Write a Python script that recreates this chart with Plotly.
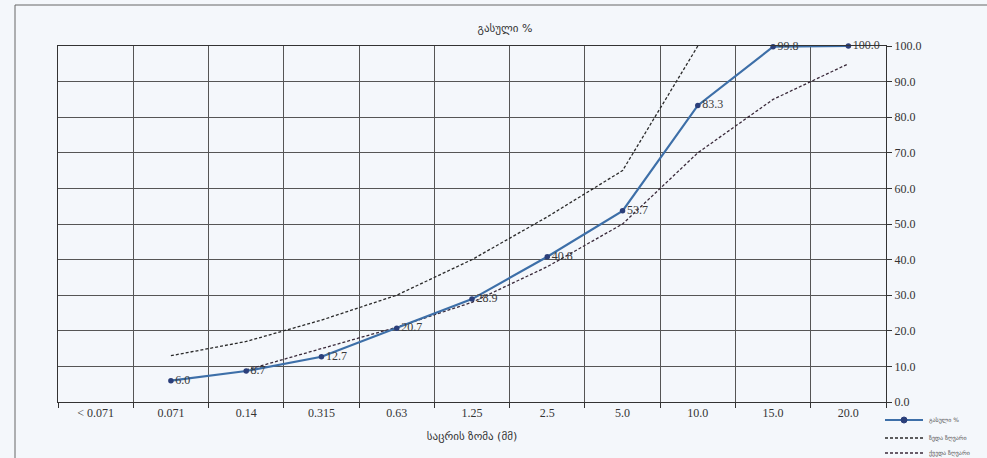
import plotly.graph_objects as go

categories = ["< 0.071", "0.071", "0.14", "0.315", "0.63", "1.25", "2.5", "5.0", "10.0", "15.0", "20.0"]

passed_x = ["0.071", "0.14", "0.315", "0.63", "1.25", "2.5", "5.0", "10.0", "15.0", "20.0"]
passed_y = [6.0, 8.7, 12.7, 20.7, 28.9, 40.8, 53.7, 83.3, 99.8, 100.0]

upper_x = ["0.071", "0.14", "0.315", "0.63", "1.25", "2.5", "5.0", "10.0"]
upper_y = [13, 17, 23, 30, 40, 52, 65, 100]

lower_x = ["0.14", "0.315", "0.63", "1.25", "2.5", "5.0", "10.0", "15.0", "20.0"]
lower_y = [9, 15, 21, 28, 38, 50, 70, 85, 95]

y_ticks = [0, 10, 20, 30, 40, 50, 60, 70, 80, 90, 100]

names = ["გასული %", "ზედა ზღვარი", "ქვედა ზღვარი"]

serif = "Liberation Serif, Times New Roman, DejaVu Serif, serif"
geo = "DejaVu Sans, Noto Sans, sans-serif"
bg = "#f4f7fb"
grid = "#555555"

PW, PH, L, T = 828, 356, 58, 46
def px(x):
    return (x - L) / PW
def py(y):
    return (T + PH - y) / PH

fig = go.Figure()

up_line = dict(color="#2a2a2a", width=1.3, dash="3px,2px")
lo_line = dict(color="#3a2a3a", width=1.3, dash="3px,2px")
main_line = dict(color="#3d6fa8", width=2.2)
main_marker = dict(color="#2b3f7a", size=5.5, symbol="circle")

fig.add_trace(go.Scatter(x=upper_x, y=upper_y, mode="lines", name=names[1], line=up_line))
fig.add_trace(go.Scatter(x=lower_x, y=lower_y, mode="lines", name=names[2], line=lo_line))
fig.add_trace(go.Scatter(
    x=passed_x, y=passed_y, mode="lines+markers+text", name=names[0],
    line=main_line, marker=main_marker,
    text=[f"{v:.1f}" for v in passed_y],
    textposition="middle right",
    textfont=dict(family=serif, size=12, color="#3a3a3a"),
    cliponaxis=False,
))

fig.update_layout(
    width=987, height=458,
    margin=dict(l=L, r=987 - L - PW, t=T, b=458 - T - PH, autoexpand=False),
    paper_bgcolor=bg, plot_bgcolor=bg,
    title=dict(text="გასული %", x=505/987, xanchor="center", y=1 - 28/458, yanchor="middle",
               font=dict(family=geo, size=11, color="#333333")),
    showlegend=False,
    xaxis=dict(
        type="category", categoryorder="array", categoryarray=categories,
        range=[-0.5, 10.5], tickson="boundaries",
        showgrid=True, gridcolor=grid, gridwidth=1,
        showline=True, linecolor="#333333", linewidth=1, mirror=True,
        ticks="outside", ticklen=5, tickcolor="#333333",
        tickfont=dict(family=serif, size=12, color="#333333"),
        title=dict(text="საცრის ზომა (მმ)", font=dict(family=geo, size=11, color="#333333"), standoff=12),
    ),
    yaxis=dict(
        side="right", range=[0, 100], tickvals=y_ticks, tickformat=".1f",
        showgrid=True, gridcolor=grid, gridwidth=1,
        showline=True, linecolor="#333333", linewidth=1, mirror=True,
        ticks="outside", ticklen=5, tickcolor="#333333",
        tickfont=dict(family=serif, size=12, color="#333333"),
        zeroline=False,
    ),
)

# outer chart frame
fig.add_shape(type="line", xref="paper", yref="paper",
              x0=px(15), x1=px(15), y0=py(470), y1=py(5),
              line=dict(color="#666666", width=1))
fig.add_shape(type="line", xref="paper", yref="paper",
              x0=px(15), x1=px(1000), y0=py(5), y1=py(5),
              line=dict(color="#666666", width=1))

# manual legend
legend_rows = [(420, main_line, True, names[0]), (438, up_line, False, names[1]), (453, lo_line, False, names[2])]
for yy, ln, mk, nm in legend_rows:
    fig.add_shape(type="line", xref="paper", yref="paper",
                  x0=px(885), x1=px(923), y0=py(yy), y1=py(yy), line=ln)
    if mk:
        fig.add_shape(type="circle", xref="paper", yref="paper", xsizemode="pixel", ysizemode="pixel",
                      xanchor=px(904), yanchor=py(yy), x0=-3, x1=3, y0=-3, y1=3,
                      fillcolor=main_marker["color"], line=dict(color=main_marker["color"], width=1))
    fig.add_annotation(text=nm, xref="paper", yref="paper", x=px(927), y=py(yy),
                       xanchor="left", yanchor="middle", showarrow=False,
                       font=dict(family=geo, size=6, color="#555555"))

fig.write_html("out.html", config={"displayModeBar": False},
               post_script="document.body.style.margin='0';")
